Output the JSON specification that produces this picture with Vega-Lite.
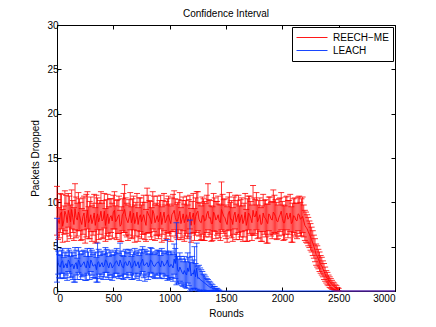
{
"$schema": "https://vega.github.io/schema/vega-lite/v6.json",
"width": 338, "height": 266,
"autosize": {"type": "none"},
"padding": {"left": 57, "top": 25, "right": 41, "bottom": 36},
"background": "white",
"title": {"text": "Confidence Interval", "fontSize": 10, "fontWeight": "normal", "font": "Liberation Sans", "color": "black", "offset": 1},
"config": {
  "view": {"stroke": "black", "strokeWidth": 1},
  "axis": {"labelFont": "Liberation Sans", "labelFontSize": 10, "labelColor": "black", "titleFont": "Liberation Sans", "titleFontSize": 10, "titleFontWeight": "normal", "titleColor": "black", "domainColor": "black", "tickColor": "black", "grid": false, "tickSize": -4, "labelPadding": 3},
  "legend": {"orient": "top-right", "offset": 2, "title": null, "symbolType": "stroke", "symbolSize": 961, "symbolStrokeWidth": 1, "labelFont": "Liberation Sans", "labelFontSize": 10, "labelColor": "black", "strokeColor": "black", "fillColor": "white", "padding": 4, "rowPadding": 0, "clipHeight": 13, "labelOffset": 5}
},
"datasets": {
"red": [
{"r":0,"m":8.4,"l":6.3,"h":11.8},{"r":10,"m":8.0,"l":5.8,"h":10.3},{"r":20,"m":7.6,"l":6.0,"h":9.4},{"r":30,"m":8.7,"l":6.6,"h":11.0},{"r":40,"m":8.9,"l":7.0,"h":10.9},{"r":50,"m":7.3,"l":5.5,"h":9.2},{"r":60,"m":7.9,"l":6.4,"h":9.6},{"r":70,"m":9.0,"l":6.8,"h":11.3},{"r":80,"m":8.6,"l":6.5,"h":10.8},{"r":90,"m":7.7,"l":5.6,"h":9.9},
{"r":100,"m":9.1,"l":7.2,"h":11.0},{"r":110,"m":8.5,"l":6.2,"h":10.7},{"r":120,"m":7.8,"l":5.9,"h":9.7},{"r":130,"m":9.2,"l":7.0,"h":11.4},{"r":140,"m":8.3,"l":6.6,"h":10.2},{"r":150,"m":7.5,"l":5.7,"h":9.4},{"r":160,"m":9.3,"l":6.9,"h":12.1},{"r":170,"m":8.3,"l":6.0,"h":10.6},{"r":180,"m":8.0,"l":6.2,"h":9.9},{"r":190,"m":8.9,"l":6.8,"h":11.1},
{"r":200,"m":8.5,"l":6.8,"h":10.4},{"r":210,"m":7.9,"l":5.7,"h":10.0},{"r":220,"m":7.5,"l":5.8,"h":9.3},{"r":230,"m":8.4,"l":6.4,"h":10.5},{"r":240,"m":8.8,"l":6.9,"h":10.7},{"r":250,"m":7.2,"l":5.4,"h":9.1},{"r":260,"m":8.2,"l":6.1,"h":10.9},{"r":270,"m":9.1,"l":7.0,"h":11.2},{"r":280,"m":7.7,"l":5.9,"h":9.5},{"r":290,"m":8.0,"l":5.9,"h":10.1},
{"r":300,"m":8.6,"l":6.7,"h":10.6},{"r":310,"m":7.6,"l":5.6,"h":9.6},{"r":320,"m":8.1,"l":6.3,"h":9.9},{"r":330,"m":8.8,"l":6.7,"h":10.9},{"r":340,"m":7.4,"l":5.4,"h":9.4},{"r":350,"m":8.2,"l":5.5,"h":10.8},{"r":360,"m":8.7,"l":6.9,"h":10.5},{"r":370,"m":7.8,"l":5.8,"h":9.9},{"r":380,"m":8.3,"l":6.4,"h":10.2},{"r":390,"m":9.0,"l":6.9,"h":11.2},
{"r":400,"m":7.9,"l":5.9,"h":9.9},{"r":410,"m":8.1,"l":6.0,"h":10.2},{"r":420,"m":9.0,"l":7.1,"h":11.0},{"r":430,"m":7.4,"l":5.6,"h":9.3},{"r":440,"m":8.2,"l":6.2,"h":10.3},{"r":450,"m":8.7,"l":6.5,"h":10.9},{"r":460,"m":7.6,"l":5.8,"h":9.5},{"r":470,"m":8.3,"l":6.2,"h":10.4},{"r":480,"m":8.5,"l":6.6,"h":10.4},{"r":490,"m":7.9,"l":5.9,"h":9.9},
{"r":500,"m":8.9,"l":7.0,"h":10.8},{"r":510,"m":9.1,"l":7.0,"h":11.2},{"r":520,"m":7.8,"l":6.0,"h":9.6},{"r":530,"m":8.0,"l":5.8,"h":10.2},{"r":540,"m":8.4,"l":6.5,"h":10.3},{"r":550,"m":8.6,"l":6.5,"h":10.7},{"r":560,"m":7.3,"l":5.6,"h":9.1},{"r":570,"m":7.5,"l":5.6,"h":9.5},{"r":580,"m":8.6,"l":6.8,"h":10.4},{"r":590,"m":8.8,"l":6.6,"h":11.0},
{"r":600,"m":9.2,"l":6.6,"h":12.0},{"r":610,"m":8.4,"l":6.3,"h":10.5},{"r":620,"m":8.0,"l":6.1,"h":9.9},{"r":630,"m":7.7,"l":5.7,"h":9.7},{"r":640,"m":8.3,"l":6.3,"h":10.3},{"r":650,"m":9.0,"l":6.9,"h":11.1},{"r":660,"m":7.7,"l":5.9,"h":9.5},{"r":670,"m":8.2,"l":6.0,"h":10.4},{"r":680,"m":8.8,"l":6.9,"h":10.7},{"r":690,"m":7.6,"l":5.5,"h":9.7},
{"r":700,"m":8.1,"l":6.2,"h":10.0},{"r":710,"m":8.9,"l":6.8,"h":11.0},{"r":720,"m":7.5,"l":5.6,"h":9.4},{"r":730,"m":8.3,"l":6.1,"h":10.5},{"r":740,"m":8.6,"l":6.7,"h":10.5},{"r":750,"m":7.8,"l":5.9,"h":9.7},{"r":760,"m":8.2,"l":6.4,"h":10.0},{"r":770,"m":8.6,"l":6.4,"h":10.8},{"r":780,"m":7.9,"l":5.8,"h":10.0},{"r":790,"m":7.4,"l":5.6,"h":9.2},
{"r":800,"m":9.0,"l":6.5,"h":11.6},{"r":810,"m":8.7,"l":6.6,"h":10.8},{"r":820,"m":8.4,"l":6.6,"h":10.2},{"r":830,"m":8.1,"l":6.1,"h":10.1},{"r":840,"m":7.6,"l":5.8,"h":9.4},{"r":850,"m":9.1,"l":7.0,"h":11.2},{"r":860,"m":8.7,"l":6.7,"h":10.7},{"r":870,"m":7.7,"l":5.7,"h":9.7},{"r":880,"m":8.1,"l":6.3,"h":9.9},{"r":890,"m":8.5,"l":6.3,"h":10.7},
{"r":900,"m":7.8,"l":5.9,"h":9.7},{"r":910,"m":8.2,"l":6.2,"h":10.2},{"r":920,"m":8.9,"l":7.0,"h":10.8},{"r":930,"m":7.5,"l":5.5,"h":9.5},{"r":940,"m":8.3,"l":6.4,"h":10.2},{"r":950,"m":8.9,"l":6.8,"h":11.0},{"r":960,"m":7.7,"l":5.7,"h":9.7},{"r":970,"m":8.0,"l":5.9,"h":10.1},{"r":980,"m":8.5,"l":6.6,"h":10.4},{"r":990,"m":8.6,"l":6.5,"h":10.7},
{"r":1000,"m":8.0,"l":6.2,"h":9.8},{"r":1010,"m":7.6,"l":5.6,"h":9.6},{"r":1020,"m":8.6,"l":6.7,"h":10.5},{"r":1030,"m":8.8,"l":6.7,"h":10.9},{"r":1040,"m":9.1,"l":6.9,"h":11.3},{"r":1050,"m":8.3,"l":6.2,"h":10.4},{"r":1060,"m":7.9,"l":6.0,"h":9.8},{"r":1070,"m":7.9,"l":5.8,"h":10.0},{"r":1080,"m":8.4,"l":6.5,"h":10.3},{"r":1090,"m":9.0,"l":6.9,"h":11.1},
{"r":1100,"m":7.6,"l":5.8,"h":9.4},{"r":1110,"m":8.1,"l":6.0,"h":10.2},{"r":1120,"m":8.7,"l":6.8,"h":10.6},{"r":1130,"m":7.7,"l":5.6,"h":9.8},{"r":1140,"m":8.2,"l":6.2,"h":10.2},{"r":1150,"m":8.6,"l":6.5,"h":10.7},{"r":1160,"m":7.8,"l":5.9,"h":9.7},{"r":1170,"m":8.2,"l":6.1,"h":10.3},{"r":1180,"m":8.9,"l":7.0,"h":10.8},{"r":1190,"m":7.4,"l":5.5,"h":9.3},
{"r":1200,"m":8.3,"l":6.5,"h":10.1},{"r":1210,"m":8.8,"l":6.6,"h":11.0},{"r":1220,"m":7.5,"l":5.7,"h":9.3},{"r":1230,"m":8.4,"l":6.3,"h":10.5},{"r":1240,"m":8.8,"l":6.6,"h":11.2},{"r":1250,"m":9.0,"l":6.8,"h":11.2},{"r":1260,"m":8.1,"l":6.2,"h":10.0},{"r":1270,"m":7.8,"l":5.7,"h":9.9},{"r":1280,"m":7.7,"l":5.8,"h":9.6},{"r":1290,"m":8.5,"l":6.4,"h":10.6},
{"r":1300,"m":8.5,"l":5.7,"h":10.4},{"r":1310,"m":7.9,"l":5.7,"h":10.1},{"r":1320,"m":8.0,"l":6.1,"h":9.9},{"r":1330,"m":8.7,"l":6.6,"h":10.8},{"r":1340,"m":9.0,"l":6.9,"h":12.1},{"r":1350,"m":8.2,"l":6.1,"h":10.3},{"r":1360,"m":8.3,"l":6.4,"h":10.2},{"r":1370,"m":7.6,"l":5.6,"h":9.6},{"r":1380,"m":7.6,"l":5.7,"h":9.5},{"r":1390,"m":8.9,"l":6.8,"h":11.0},
{"r":1400,"m":8.6,"l":6.7,"h":10.5},{"r":1410,"m":8.0,"l":5.9,"h":10.1},{"r":1420,"m":8.2,"l":6.3,"h":10.1},{"r":1430,"m":8.6,"l":6.5,"h":10.7},{"r":1440,"m":7.9,"l":6.0,"h":9.8},{"r":1450,"m":7.7,"l":5.7,"h":9.7},{"r":1460,"m":9.2,"l":6.9,"h":12.3},{"r":1470,"m":8.8,"l":6.7,"h":10.9},{"r":1480,"m":8.4,"l":6.5,"h":10.3},{"r":1490,"m":8.3,"l":6.2,"h":10.4},
{"r":1500,"m":7.8,"l":5.9,"h":9.7},{"r":1510,"m":7.5,"l":5.5,"h":9.5},{"r":1520,"m":8.7,"l":6.8,"h":10.6},{"r":1530,"m":9.0,"l":6.9,"h":11.1},{"r":1540,"m":8.1,"l":6.2,"h":10.0},{"r":1550,"m":8.1,"l":6.0,"h":10.2},{"r":1560,"m":7.5,"l":5.6,"h":9.4},{"r":1570,"m":8.5,"l":6.4,"h":10.6},{"r":1580,"m":8.9,"l":7.0,"h":10.8},{"r":1590,"m":7.8,"l":5.8,"h":9.8},
{"r":1600,"m":8.3,"l":6.4,"h":10.2},{"r":1610,"m":8.7,"l":6.6,"h":10.8},{"r":1620,"m":7.7,"l":5.8,"h":9.6},{"r":1630,"m":8.2,"l":6.1,"h":10.3},{"r":1640,"m":8.6,"l":6.7,"h":10.5},{"r":1650,"m":7.6,"l":5.6,"h":9.6},{"r":1660,"m":8.0,"l":6.1,"h":9.9},{"r":1670,"m":8.9,"l":6.8,"h":11.0},{"r":1680,"m":7.4,"l":5.6,"h":9.2},{"r":1690,"m":8.0,"l":5.6,"h":10.4},
{"r":1700,"m":8.8,"l":6.9,"h":10.7},{"r":1710,"m":8.6,"l":6.5,"h":10.7},{"r":1720,"m":8.2,"l":6.3,"h":10.1},{"r":1730,"m":7.7,"l":5.7,"h":9.7},{"r":1740,"m":9.1,"l":6.3,"h":11.9},{"r":1750,"m":8.4,"l":6.3,"h":10.5},{"r":1760,"m":8.4,"l":6.5,"h":10.3},{"r":1770,"m":9.0,"l":6.9,"h":11.1},{"r":1780,"m":7.8,"l":5.9,"h":9.7},{"r":1790,"m":8.1,"l":6.0,"h":10.2},
{"r":1800,"m":8.6,"l":6.7,"h":10.5},{"r":1810,"m":7.5,"l":5.6,"h":9.4},{"r":1820,"m":7.6,"l":5.6,"h":9.6},{"r":1830,"m":8.8,"l":6.7,"h":10.9},{"r":1840,"m":8.3,"l":6.4,"h":10.2},{"r":1850,"m":8.2,"l":6.1,"h":10.3},{"r":1860,"m":7.9,"l":5.4,"h":9.8},{"r":1870,"m":7.6,"l":5.4,"h":9.8},{"r":1880,"m":8.7,"l":6.8,"h":10.6},{"r":1890,"m":8.5,"l":6.4,"h":10.6},
{"r":1900,"m":8.1,"l":6.2,"h":10.0},{"r":1910,"m":8.0,"l":5.9,"h":10.1},{"r":1920,"m":8.9,"l":6.4,"h":11.4},{"r":1930,"m":8.7,"l":6.6,"h":10.8},{"r":1940,"m":8.4,"l":6.5,"h":10.3},{"r":1950,"m":7.9,"l":5.8,"h":10.0},{"r":1960,"m":7.8,"l":5.9,"h":9.7},{"r":1970,"m":8.3,"l":6.2,"h":10.4},{"r":1980,"m":8.6,"l":6.7,"h":10.5},{"r":1990,"m":9.0,"l":6.9,"h":11.1},
{"r":2000,"m":8.2,"l":6.3,"h":10.1},{"r":2010,"m":7.7,"l":5.7,"h":9.7},{"r":2020,"m":7.7,"l":5.8,"h":9.6},{"r":2030,"m":8.5,"l":6.4,"h":10.6},{"r":2040,"m":8.8,"l":6.9,"h":10.7},{"r":2050,"m":8.1,"l":6.0,"h":10.2},{"r":2060,"m":8.3,"l":6.4,"h":10.2},{"r":2070,"m":8.8,"l":6.7,"h":10.9},{"r":2080,"m":7.6,"l":5.5,"h":9.5},{"r":2090,"m":7.8,"l":5.5,"h":9.9},
{"r":2100,"m":8.5,"l":6.6,"h":10.4},{"r":2110,"m":8.4,"l":6.3,"h":10.5},{"r":2120,"m":8.0,"l":6.1,"h":9.9},{"r":2130,"m":7.9,"l":5.9,"h":9.9},{"r":2140,"m":8.7,"l":6.8,"h":10.6},{"r":2150,"m":8.6,"l":6.5,"h":10.7},{"r":2160,"m":8.1,"l":6.2,"h":10.0},{"r":2170,"m":8.2,"l":6.2,"h":10.4},{"r":2180,"m":8.4,"l":6.6,"h":10.6},{"r":2190,"m":7.9,"l":6.1,"h":9.7},
{"r":2200,"m":7.4,"l":5.7,"h":9.1},{"r":2210,"m":7.2,"l":5.5,"h":8.9},{"r":2220,"m":7.0,"l":5.4,"h":8.6},{"r":2230,"m":6.7,"l":5.1,"h":8.3},{"r":2240,"m":6.4,"l":4.9,"h":7.9},{"r":2250,"m":6.1,"l":4.6,"h":7.6},{"r":2260,"m":5.8,"l":4.4,"h":7.2},{"r":2270,"m":5.4,"l":4.0,"h":6.8},{"r":2280,"m":5.0,"l":3.7,"h":6.3},{"r":2290,"m":4.6,"l":3.3,"h":5.9},
{"r":2300,"m":4.1,"l":2.9,"h":5.3},{"r":2310,"m":3.9,"l":2.7,"h":5.1},{"r":2320,"m":3.6,"l":2.5,"h":4.7},{"r":2330,"m":3.3,"l":2.2,"h":4.4},{"r":2340,"m":3.0,"l":2.0,"h":4.0},{"r":2350,"m":2.8,"l":1.8,"h":3.8},{"r":2360,"m":2.5,"l":1.6,"h":3.4},{"r":2370,"m":2.2,"l":1.3,"h":3.1},{"r":2380,"m":1.9,"l":1.1,"h":2.7},{"r":2390,"m":1.6,"l":0.9,"h":2.3},
{"r":2400,"m":1.4,"l":0.7,"h":2.1},{"r":2410,"m":1.2,"l":0.6,"h":1.8},{"r":2420,"m":1.0,"l":0.4,"h":1.6},{"r":2430,"m":0.9,"l":0.3,"h":1.4},{"r":2440,"m":0.7,"l":0.2,"h":1.2},{"r":2450,"m":0.6,"l":0.2,"h":1.0},{"r":2460,"m":0.5,"l":0.1,"h":0.9},{"r":2470,"m":0.4,"l":0.1,"h":0.7},{"r":2480,"m":0.3,"l":0.0,"h":0.6},{"r":2490,"m":0.2,"l":0.0,"h":0.4},
{"r":2500,"m":0.1,"l":0.0,"h":0.3},{"r":2520,"m":0},{"r":3000,"m":0}
],
"blue": [
{"r":0,"m":4.6,"l":1.0,"h":8.2},{"r":10,"m":3.2,"l":1.9,"h":4.5},{"r":20,"m":2.8,"l":1.5,"h":4.1},{"r":30,"m":2.7,"l":1.4,"h":4.0},{"r":40,"m":3.3,"l":2.0,"h":4.6},{"r":50,"m":3.4,"l":2.0,"h":4.8},{"r":60,"m":2.6,"l":1.4,"h":3.8},{"r":70,"m":2.9,"l":1.5,"h":4.3},{"r":80,"m":3.1,"l":1.8,"h":4.4},{"r":90,"m":2.6,"l":1.2,"h":4.0},
{"r":100,"m":3.5,"l":2.2,"h":4.8},{"r":110,"m":3.3,"l":2.0,"h":4.6},{"r":120,"m":2.7,"l":1.5,"h":3.9},{"r":130,"m":3.0,"l":1.6,"h":4.4},{"r":140,"m":3.0,"l":1.3,"h":4.3},{"r":150,"m":2.5,"l":1.0,"h":4.0},{"r":160,"m":3.0,"l":1.0,"h":4.9},{"r":170,"m":3.2,"l":1.8,"h":4.6},{"r":180,"m":2.5,"l":1.3,"h":3.7},{"r":190,"m":3.5,"l":2.1,"h":4.9},
{"r":200,"m":3.2,"l":1.9,"h":4.5},{"r":210,"m":2.7,"l":1.3,"h":4.1},{"r":220,"m":2.9,"l":1.6,"h":4.2},{"r":230,"m":3.1,"l":1.7,"h":4.5},{"r":240,"m":3.3,"l":1.8,"h":4.6},{"r":250,"m":2.8,"l":1.2,"h":4.4},{"r":260,"m":2.6,"l":1.2,"h":3.9},{"r":270,"m":3.4,"l":2.0,"h":4.8},{"r":280,"m":3.1,"l":1.8,"h":4.4},{"r":290,"m":2.6,"l":1.3,"h":3.9},
{"r":300,"m":3.5,"l":2.2,"h":4.8},{"r":310,"m":3.2,"l":1.8,"h":4.6},{"r":320,"m":2.8,"l":1.5,"h":4.1},{"r":330,"m":2.9,"l":1.5,"h":4.3},{"r":340,"m":3.0,"l":1.4,"h":4.4},{"r":350,"m":2.4,"l":1.0,"h":3.8},{"r":360,"m":3.2,"l":1.0,"h":5.4},{"r":370,"m":3.3,"l":1.9,"h":4.7},{"r":380,"m":2.7,"l":1.4,"h":4.0},{"r":390,"m":3.0,"l":1.6,"h":4.4},
{"r":400,"m":3.2,"l":1.9,"h":4.5},{"r":410,"m":2.7,"l":1.3,"h":4.1},{"r":420,"m":2.9,"l":1.6,"h":4.2},{"r":430,"m":3.5,"l":2.1,"h":4.9},{"r":440,"m":3.4,"l":2.1,"h":4.7},{"r":450,"m":2.9,"l":1.5,"h":4.3},{"r":460,"m":2.6,"l":1.3,"h":3.9},{"r":470,"m":3.2,"l":1.8,"h":4.6},{"r":480,"m":3.1,"l":1.8,"h":4.4},{"r":490,"m":2.6,"l":1.2,"h":4.0},
{"r":500,"m":2.8,"l":1.5,"h":4.1},{"r":510,"m":3.0,"l":1.6,"h":4.4},{"r":520,"m":3.3,"l":2.0,"h":4.6},{"r":530,"m":3.4,"l":2.0,"h":4.8},{"r":540,"m":3.0,"l":1.6,"h":4.3},{"r":550,"m":2.8,"l":1.4,"h":4.2},{"r":560,"m":3.5,"l":1.7,"h":5.4},{"r":570,"m":3.1,"l":1.7,"h":4.5},{"r":580,"m":2.7,"l":1.4,"h":4.0},{"r":590,"m":2.6,"l":1.3,"h":3.9},
{"r":600,"m":3.2,"l":1.9,"h":4.5},{"r":610,"m":3.3,"l":1.9,"h":4.7},{"r":620,"m":2.9,"l":1.5,"h":4.3},{"r":630,"m":2.9,"l":1.5,"h":4.3},{"r":640,"m":3.4,"l":2.1,"h":4.7},{"r":650,"m":3.2,"l":1.8,"h":4.6},{"r":660,"m":2.6,"l":1.3,"h":3.9},{"r":670,"m":2.7,"l":1.3,"h":4.1},{"r":680,"m":3.1,"l":1.8,"h":4.4},{"r":690,"m":3.4,"l":2.0,"h":4.8},
{"r":700,"m":2.8,"l":1.4,"h":4.2},{"r":710,"m":3.0,"l":1.6,"h":4.4},{"r":720,"m":3.3,"l":2.0,"h":4.6},{"r":730,"m":2.6,"l":1.2,"h":4.0},{"r":740,"m":3.0,"l":1.7,"h":4.3},{"r":750,"m":3.3,"l":1.9,"h":4.7},{"r":760,"m":3.6,"l":2.2,"h":5.0},{"r":770,"m":2.9,"l":1.5,"h":4.3},{"r":780,"m":2.9,"l":1.1,"h":4.7},{"r":790,"m":3.1,"l":1.7,"h":4.5},
{"r":800,"m":3.2,"l":1.9,"h":4.5},{"r":810,"m":2.7,"l":1.3,"h":4.1},{"r":820,"m":2.9,"l":1.6,"h":4.2},{"r":830,"m":3.5,"l":2.1,"h":4.9},{"r":840,"m":3.4,"l":2.0,"h":4.8},{"r":850,"m":3.0,"l":1.6,"h":4.4},{"r":860,"m":2.8,"l":1.5,"h":4.1},{"r":870,"m":2.8,"l":1.4,"h":4.2},{"r":880,"m":3.1,"l":1.8,"h":4.4},{"r":890,"m":3.2,"l":1.8,"h":4.6},
{"r":900,"m":3.3,"l":2.0,"h":4.6},{"r":910,"m":3.0,"l":1.5,"h":4.5},{"r":920,"m":2.7,"l":1.4,"h":4.0},{"r":930,"m":3.4,"l":2.0,"h":4.8},{"r":940,"m":3.2,"l":1.9,"h":4.5},{"r":950,"m":2.8,"l":1.4,"h":4.2},{"r":960,"m":3.0,"l":1.7,"h":4.3},{"r":970,"m":3.1,"l":1.7,"h":4.5},{"r":980,"m":3.5,"l":1.2,"h":5.8},{"r":990,"m":2.9,"l":1.4,"h":4.4},
{"r":1000,"m":2.7,"l":1.3,"h":4.1},{"r":1010,"m":3.0,"l":1.5,"h":4.5},{"r":1020,"m":2.9,"l":1.5,"h":4.3},{"r":1030,"m":2.6,"l":1.1,"h":4.1},{"r":1040,"m":3.6,"l":1.9,"h":5.3},{"r":1050,"m":3.1,"l":1.4,"h":4.8},{"r":1060,"m":4.2,"l":0.7,"h":7.7},{"r":1070,"m":2.4,"l":0.9,"h":3.9},{"r":1080,"m":2.2,"l":0.8,"h":3.6},{"r":1090,"m":2.7,"l":1.1,"h":4.3},
{"r":1100,"m":2.4,"l":0.9,"h":3.9},{"r":1110,"m":2.1,"l":0.6,"h":3.6},{"r":1120,"m":1.9,"l":0.5,"h":3.3},{"r":1130,"m":2.3,"l":0.7,"h":3.9},{"r":1140,"m":2.0,"l":0.4,"h":3.6},{"r":1150,"m":1.8,"l":0.3,"h":3.3},{"r":1160,"m":2.6,"l":0.9,"h":4.3},{"r":1170,"m":2.2,"l":0.6,"h":3.8},{"r":1180,"m":3.2,"l":0.0,"h":8.0},{"r":1190,"m":1.7,"l":0.2,"h":3.2},
{"r":1200,"m":2.0,"l":0.1,"h":3.9},{"r":1210,"m":1.9,"l":0.3,"h":3.5},{"r":1220,"m":2.4,"l":0.3,"h":5.0},{"r":1230,"m":1.6,"l":0.1,"h":3.1},{"r":1240,"m":2.6,"l":0.2,"h":5.4},{"r":1250,"m":1.4,"l":0.0,"h":2.8},{"r":1260,"m":1.5,"l":0.1,"h":2.9},{"r":1270,"m":1.3,"l":0.0,"h":2.6},{"r":1280,"m":1.2,"l":0.0,"h":2.4},{"r":1290,"m":1.1,"l":0.0,"h":2.2},
{"r":1300,"m":1.0,"l":0.1,"h":1.9},{"r":1310,"m":0.9,"l":0.0,"h":1.8},{"r":1320,"m":0.8,"l":0.0,"h":1.6},{"r":1330,"m":0.7,"l":0.0,"h":1.4},{"r":1340,"m":0.6,"l":0.0,"h":1.3},{"r":1350,"m":0.5,"l":0.0,"h":1.1},{"r":1360,"m":0.4,"l":0.0,"h":1.0},{"r":1370,"m":0.4,"l":0.0,"h":0.8},{"r":1380,"m":0.3,"l":0.0,"h":0.7},{"r":1390,"m":0.2,"l":0.0,"h":0.5},
{"r":1400,"m":0.2,"l":0.0,"h":0.5},{"r":1410,"m":0.1,"l":0.0,"h":0.3},{"r":1420,"m":0.1,"l":0.0,"h":0.3},{"r":1430,"m":0.1,"l":0.0,"h":0.2},{"r":1440,"m":0.0,"l":0.0,"h":0.1},{"r":1460,"m":0},{"r":3000,"m":0}
]
},
"resolve": {"axis": {"x": "independent", "y": "independent"}},
"layer": [
  {
    "data": {"name": "red"},
    "encoding": {
      "x": {"field": "r", "type": "quantitative", "scale": {"domain": [0, 3000], "nice": false}, "axis": {"values": [0, 500, 1000, 1500, 2000, 2500, 3000], "format": "d", "title": "Rounds", "labelPadding": 6, "titlePadding": 5}}
    },
    "layer": [
      {"mark": {"type": "line", "strokeWidth": 1, "opacity": 0.9}, "encoding": {"y": {"field": "m", "type": "quantitative", "scale": {"domain": [0, 30], "nice": false}, "axis": {"values": [0, 5, 10, 15, 20, 25, 30], "title": "Packets Dropped", "titlePadding": 6}}, "order": {"field": "r", "type": "quantitative"}, "color": {"datum": "REECH−ME", "type": "nominal", "scale": {"domain": ["REECH−ME", "LEACH"], "range": ["#ff0000", "#0033ff"]}, "legend": {}}}},
      {"mark": {"type": "rule", "strokeWidth": 1, "opacity": 0.8}, "encoding": {"y": {"field": "l", "type": "quantitative", "title": "Packets Dropped"}, "y2": {"field": "h"}, "color": {"datum": "REECH−ME", "type": "nominal", "legend": null}}},
      {"mark": {"type": "tick", "orient": "horizontal", "size": 6, "thickness": 1, "opacity": 0.8}, "encoding": {"y": {"field": "l", "type": "quantitative", "title": "Packets Dropped"}, "color": {"datum": "REECH−ME", "type": "nominal", "legend": null}}},
      {"mark": {"type": "tick", "orient": "horizontal", "size": 6, "thickness": 1, "opacity": 0.8}, "encoding": {"y": {"field": "h", "type": "quantitative", "title": "Packets Dropped"}, "color": {"datum": "REECH−ME", "type": "nominal", "legend": null}}}
    ]
  },
  {
    "data": {"name": "blue"},
    "encoding": {
      "x": {"field": "r", "type": "quantitative", "axis": null}
    },
    "layer": [
      {"mark": {"type": "line", "strokeWidth": 1, "opacity": 0.95}, "encoding": {"y": {"field": "m", "type": "quantitative", "axis": null}, "order": {"field": "r", "type": "quantitative"}, "color": {"datum": "LEACH", "type": "nominal", "legend": {}}}},
      {"mark": {"type": "rule", "strokeWidth": 1, "opacity": 0.8}, "encoding": {"y": {"field": "l", "type": "quantitative", "axis": null}, "y2": {"field": "h"}, "color": {"datum": "LEACH", "type": "nominal", "legend": null}}},
      {"mark": {"type": "tick", "orient": "horizontal", "size": 6, "thickness": 1, "opacity": 0.8}, "encoding": {"y": {"field": "l", "type": "quantitative", "axis": null}, "color": {"datum": "LEACH", "type": "nominal", "legend": null}}},
      {"mark": {"type": "tick", "orient": "horizontal", "size": 6, "thickness": 1, "opacity": 0.8}, "encoding": {"y": {"field": "h", "type": "quantitative", "axis": null}, "color": {"datum": "LEACH", "type": "nominal", "legend": null}}}
    ]
  },
  {
    "data": {"name": "red"},
    "mark": {"type": "point", "opacity": 0},
    "encoding": {
      "x": {"field": "r", "type": "quantitative", "axis": {"orient": "top", "values": [0, 500, 1000, 1500, 2000, 2500, 3000], "labels": false, "title": null, "domain": false}},
      "y": {"field": "m", "type": "quantitative", "axis": {"orient": "right", "values": [0, 5, 10, 15, 20, 25, 30], "labels": false, "title": null, "domain": false}}
    }
  }
]
}
